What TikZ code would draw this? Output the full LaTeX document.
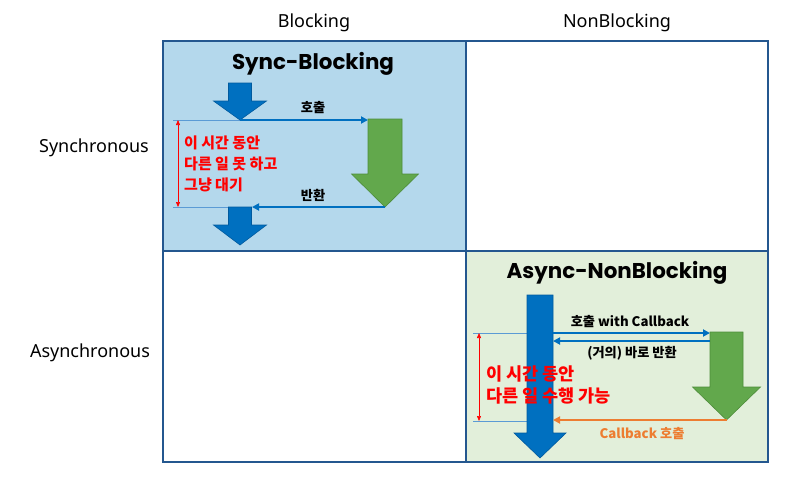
\documentclass[tikz,border=0pt]{standalone}
\usepackage{fontspec}
\setmainfont{Noto Sans}
\newfontfamily\krfont{Noto Sans CJK KR}
\newfontfamily\titlefont{Poppins}
\usetikzlibrary{arrows.meta}
\definecolor{cellblue}{HTML}{B4D8EC}
\definecolor{cellgreen}{HTML}{E2EFDA}
\definecolor{gridcol}{HTML}{24578F}
\definecolor{blkblue}{HTML}{0070C0}
\definecolor{blkedge}{HTML}{005A9E}
\definecolor{grnarrow}{HTML}{62A84C}
\definecolor{grnedge}{HTML}{4E8C3A}
\definecolor{guideblue}{HTML}{5B9BD5}
\definecolor{orangec}{HTML}{ED7D31}
\definecolor{redc}{HTML}{FF0000}
\newcommand\blockdown[7]{% style, cx, top, neck, tip, halfshaft, halfhead
  \path[#1] ({#2-#6},#3) -- ({#2+#6},#3) -- ({#2+#6},#4) -- ({#2+#7},#4) -- (#2,#5) -- ({#2-#7},#4) -- ({#2-#6},#4) -- cycle;}
\begin{document}
\begin{tikzpicture}[x=1pt,y=-1pt,
  blk/.style={draw=blkedge, fill=blkblue, line width=0.6pt},
  grn/.style={draw=grnedge, fill=grnarrow, line width=0.6pt},
  conn/.style={draw=blkblue, line width=2.2pt, -{Triangle[length=7pt,width=7pt]}},
  oconn/.style={draw=orangec, line width=2.2pt, -{Triangle[length=7pt,width=7pt]}},
  guide/.style={draw=guideblue, line width=0.7pt},
  span/.style={draw=redc, line width=0.6pt, {Triangle[length=5pt,width=4pt]}-{Triangle[length=5pt,width=4pt]}},
  border/.style={draw=gridcol, line width=2pt},
  hdr/.style={font=\fontsize{18}{21}\selectfont, inner sep=0pt},
  ttl/.style={font=\titlefont\bfseries\fontsize{21.4}{26}\selectfont, inner sep=0pt},
  lbl/.style={font=\krfont\bfseries\fontsize{13.2}{15}\selectfont, inner sep=0pt},
  redsmall/.style={font=\krfont\bfseries\fontsize{15}{21}\selectfont, text=redc, inner sep=0pt, anchor=west, align=left},
  redbig/.style={font=\krfont\bfseries\fontsize{17.5}{21.5}\selectfont, text=redc, inner sep=0pt, anchor=west, align=left}
]
\useasboundingbox (0,0) rectangle (810,485);
% cells
\fill[cellblue] (163,41) rectangle (466,251);
\fill[cellgreen] (466,251) rectangle (768,462);
\draw[border] (163,41) rectangle (768,462);
\draw[border] (466,41) -- (466,462);
\draw[border] (163,251) -- (768,251);
% headers
\node[hdr] (hB) at (314,23) {Blocking};
\node[hdr] (hN) at (617,23) {NonBlocking};
\node[hdr] (hS) at (94,148) {Synchronous};
\node[hdr] (hA) at (90,353) {Asynchronous};
% ---- Sync-Blocking ----
\node[ttl] (t1) at (313,64) {Sync-Blocking};
\coordinate (gl1) at (173,120);
\coordinate (gl2) at (173,207);
\coordinate (s1) at (240,120);
\coordinate (s2l) at (229,207);
\coordinate (s2r) at (252,207);
\coordinate (g1in) at (368,120);
\coordinate (g1tip) at (385,207);
\coordinate (r1t) at (178,120);
\coordinate (r1b) at (178,207);
\draw[guide] (gl1) -- (s1);
\draw[guide] (gl2) -- (s2l);
\blockdown{blk}{240}{83}{101}{120}{11.5}{26.5}
\blockdown{blk}{240}{207}{225}{245}{11.5}{26.5}
\blockdown{grn}{385}{119}{174}{207}{17}{33.5}
\draw[conn] (s1) -- (g1in);
\draw[conn] (g1tip) -- (s2r);
\draw[span] (r1t) -- (r1b);
\node[lbl] (l1) at (313,108) {호출};
\node[lbl] (l2) at (313,195) {반환};
\node[redsmall] (r1) at (184,164) {이 시간 동안\\다른 일 못 하고\\그냥 대기};
% ---- Async-NonBlocking ----
\node[ttl] (t2) at (617,273) {Async-NonBlocking};
\coordinate (gl3) at (473,333);
\coordinate (gl4) at (473,421);
\coordinate (a0l) at (527,333);
\coordinate (a0b) at (527,421);
\coordinate (a1) at (553,333);
\coordinate (a2) at (553,341);
\coordinate (a3) at (553,420);
\coordinate (g2a) at (710,333);
\coordinate (g2b) at (710,341);
\coordinate (g2tip) at (727,420);
\coordinate (r2t) at (479,333);
\coordinate (r2b) at (479,421);
\draw[guide] (gl3) -- (a0l);
\draw[guide] (gl4) -- (a0b);
\blockdown{blk}{540}{295}{433}{458}{13}{26}
\blockdown{grn}{726.5}{332}{387}{420}{16.5}{34}
\draw[conn] (a1) -- (g2a);
\draw[conn] (g2b) -- (a2);
\draw[oconn] (g2tip) -- (a3);
\draw[span] (r2t) -- (r2b);
\node[lbl] (l3) at (630,322) {호출 with Callback};
\node[lbl] (l4) at (632,353) {(거의) 바로 반환};
\node[lbl, text=orangec] (l5) at (642,434) {Callback 호출};
\node[redbig] (r2) at (486,385) {이 시간 동안\\다른 일 수행 가능};
\end{tikzpicture}
\end{document}
